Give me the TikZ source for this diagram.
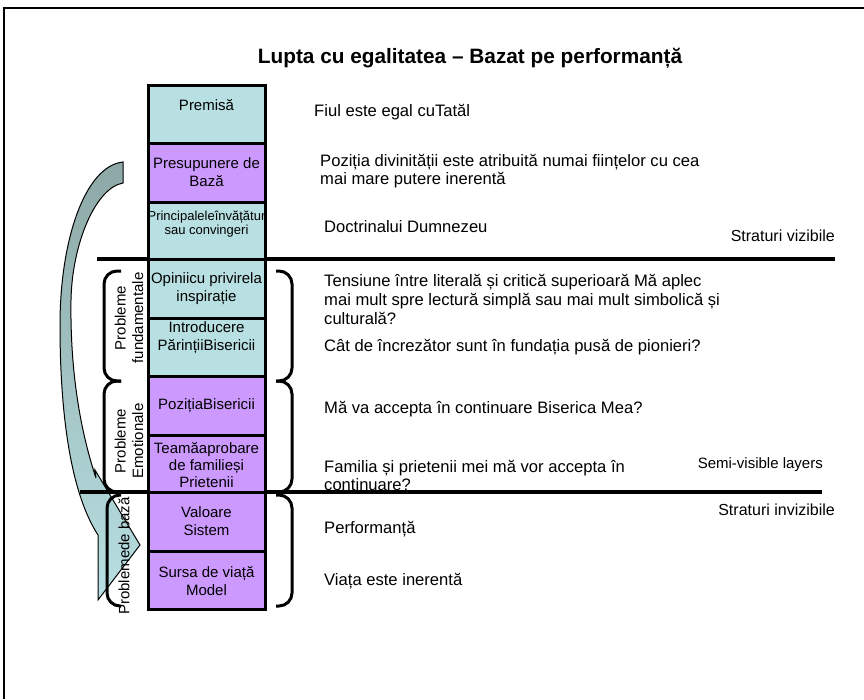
\documentclass[tikz,border=0pt]{standalone}
\usepackage{fontspec}
\setmainfont{Liberation Sans}
\definecolor{tealc}{HTML}{B8DFE1}
\definecolor{purc}{HTML}{CC99FF}
\definecolor{arrdark}{HTML}{8DA8A6}
\definecolor{arrmid}{HTML}{A4C4C4}
\definecolor{arrlight}{HTML}{B8DFE2}
\begin{document}
\begin{tikzpicture}[x=1pt,y=-1pt,
  box/.style={draw=black, line width=3pt, minimum width=117pt, inner sep=0pt, outer sep=0pt},
  btxt/.style={font=\fontsize{15}{18}\selectfont, align=center, inner sep=0pt},
  rtxt/.style={font=\fontsize{16.6}{18.8}\selectfont, align=left, anchor=west, inner sep=0pt},
  lay/.style={font=\fontsize{16}{18.5}\selectfont, anchor=east, inner sep=0pt},
  side/.style={font=\fontsize{15}{17.5}\selectfont, align=center, rotate=90, inner sep=0pt},
  brk/.style={line width=3pt, rounded corners=13pt},
  sep/.style={line width=3.2pt}]
\useasboundingbox (0,0) rectangle (864,699);
\draw[line width=1.4pt] (4,699) -- (4,8) -- (864,8);
% curved block arrow
\coordinate (tailT) at (123,162);
\coordinate (tailB) at (123,183);
\coordinate (outL) at (60,325);
\coordinate (outE) at (98,535);
\coordinate (barbL) at (98,600);
\coordinate (tip) at (140,545);
\coordinate (barbU) at (95,470);
\coordinate (inE) at (96,478);
\coordinate (inL) at (71,300);
\shadedraw[draw=black, line width=1pt, top color=arrdark, middle color=arrmid, bottom color=arrlight]
  (tailT) .. controls (85,166) and (60,240) .. (outL)
  .. controls (60,420) and (72,495) .. (outE)
  -- (barbL) -- (tip) -- (barbU) -- (inE)
  .. controls (80,430) and (70,370) .. (inL)
  .. controls (72,245) and (95,188) .. (tailB) -- cycle;
% separators
\coordinate (s1a) at (97,259); \coordinate (s1b) at (835,259);
\coordinate (s2a) at (80,492); \coordinate (s2b) at (822,492);
\draw[sep] (s1a) -- (s1b);
\draw[sep] (s2a) -- (s2b);
% brackets left
\draw[brk] (121,271) -- (104,271) -- (104,381) -- (121,381);
\draw[brk] (121,381) -- (104,381) -- (104,492) -- (121,492);
\draw[brk] (121,495) -- (107,495) -- (107,606) -- (121,606);
% brackets right
\draw[brk] (276,271) -- (292,271) -- (292,381) -- (276,381);
\draw[brk] (276,381) -- (292,381) -- (292,492) -- (276,492);
\draw[brk] (276,495) -- (292,495) -- (292,606) -- (276,606);
% column boxes
\node[box, fill=tealc, minimum height=58pt] (b1) at (206.5,114) {};
\node[box, fill=purc, minimum height=59pt] (b2) at (206.5,172.5) {};
\node[box, fill=tealc, minimum height=57pt] (b3) at (206.5,230.5) {};
\node[box, fill=tealc, minimum height=59pt] (b4) at (206.5,288.5) {};
\node[box, fill=tealc, minimum height=58pt] (b5) at (206.5,347) {};
\node[box, fill=purc, minimum height=59pt] (b6) at (206.5,405.5) {};
\node[box, fill=purc, minimum height=57pt] (b7) at (206.5,463.5) {};
\node[box, fill=purc, minimum height=59pt] (b8) at (206.5,521.5) {};
\node[box, fill=purc, minimum height=58pt] (b9) at (206.5,580) {};
\node[btxt] (t1) at (206.5,105) {Premisă};
\node[btxt] (t2) at (206.5,172) {Presupunere de\\Bază};
\node[btxt, font=\fontsize{13}{13.5}\selectfont] (t3) at (206.5,224) {Principaleleînvățătur\\sau convingeri};
\node[btxt] (t4) at (206.5,288.5) {Opiniicu privirela\\inspirație};
\node[btxt] (t5) at (206.5,338) {Introducere\\PărințiiBisericii};
\node[btxt] (t6) at (206.5,406) {PozițiaBisericii};
\node[btxt, font=\fontsize{15}{17}\selectfont] (t7) at (206.5,465) {Teamăaprobare\\de familieși\\Prietenii};
\node[btxt] (t8) at (206.5,521.5) {Valoare\\Sistem};
\node[btxt] (t9) at (206.5,581) {Sursa de viață\\Model};
% side labels
\node[side] (l1) at (129,318) {Probleme\\fundamentale};
\node[side] (l2) at (129,441) {Probleme\\Emotionale};
\node[side] (l3) at (124,556) {Problemede bază};
% title
\node[font=\bfseries\fontsize{20.8}{24}\selectfont, inner sep=0pt] (title) at (470,58) {Lupta cu egalitatea – Bazat pe performanță};
% right texts
\node[rtxt] (r1) at (314,112) {Fiul este egal cuTatăl};
\node[rtxt] (r2) at (320,171) {Poziția divinității este atribuită numai ființelor cu cea\\mai mare putere inerentă};
\node[rtxt] (r3) at (324,227) {Doctrinalui Dumnezeu};
\node[rtxt] (r4) at (324,299.5) {Tensiune între literală și critică superioară Mă aplec\\mai mult spre lectură simplă sau mai mult simbolică și\\culturală?};
\node[rtxt] (r5) at (324,347) {Cât de încrezător sunt în fundația pusă de pionieri?};
\node[rtxt] (r6) at (324,409) {Mă va accepta în continuare Biserica Mea?};
\node[rtxt] (r7) at (324,475.5) {Familia și prietenii mei mă vor accepta în\\continuare?};
\node[rtxt] (r8) at (324,529) {Performanță};
\node[rtxt] (r9) at (324,581) {Viața este inerentă};
% layer labels
\node[lay] (y1) at (835,236) {Straturi vizibile};
\node[lay, font=\fontsize{15}{18}\selectfont] (y2) at (823,465) {Semi-visible layers};
\node[lay] (y3) at (835,510) {Straturi invizibile};
\end{tikzpicture}
\end{document}
